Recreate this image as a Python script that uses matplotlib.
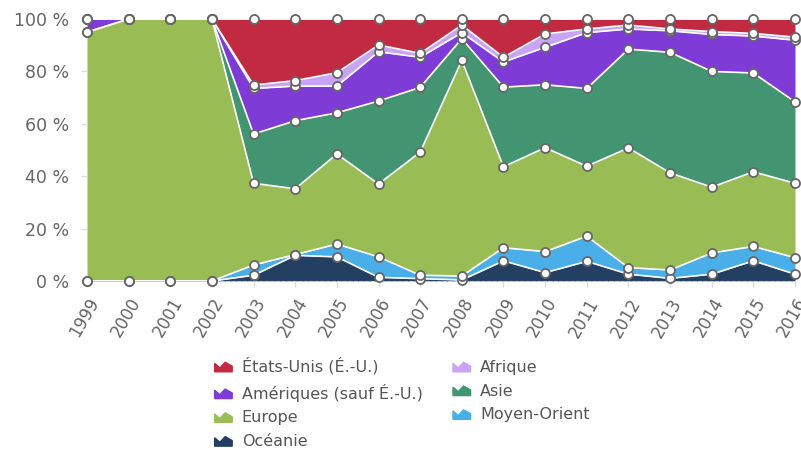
import numpy as np
import matplotlib.pyplot as plt
from matplotlib.patches import Polygon, Patch
from matplotlib.legend_handler import HandlerPatch

annees = list(range(1999, 2017))

# parts en % (de bas en haut de la pile)
oceanie = [0, 0, 0, 0, 2.2, 9.8, 9.2, 1.4, 0.9, 0.4, 7.7, 3.2, 7.5, 2.6, 1.0, 2.6, 7.7, 2.6]
moyen_orient = [0, 0, 0, 0, 3.9, 0.3, 4.9, 7.8, 1.3, 1.5, 5.0, 8.0, 9.6, 2.5, 3.2, 8.1, 5.5, 6.3]
europe = [95, 100, 100, 100, 31.2, 25.1, 34.4, 27.8, 47.0, 82.3, 30.9, 39.7, 26.7, 45.7, 37.1, 25.1, 28.5, 28.4]
asie = [0, 0, 0, 0, 18.8, 26.0, 15.7, 31.7, 24.7, 8.3, 30.4, 24.0, 29.7, 37.7, 46.0, 44.2, 37.7, 31.1]
ameriques = [5, 0, 0, 0, 17.4, 13.2, 10.2, 18.8, 11.5, 2.3, 9.6, 14.3, 21.3, 7.7, 8.2, 14.1, 14.1, 23.5]
afrique = [0, 0, 0, 0, 1.3, 2.1, 5.1, 2.6, 1.5, 2.9, 1.8, 5.1, 1.4, 1.5, 0.7, 1.1, 1.0, 1.2]
etats_unis = [0, 0, 0, 0, 25.2, 23.5, 20.5, 9.9, 13.1, 2.3, 14.6, 5.7, 3.8, 2.3, 3.8, 4.8, 5.5, 6.9]

series = [
    ("Océanie", oceanie, "#233f61"),
    ("Moyen-Orient", moyen_orient, "#4aaee8"),
    ("Europe", europe, "#99bc55"),
    ("Asie", asie, "#429570"),
    ("Amériques (sauf É.-U.)", ameriques, "#7f3bd5"),
    ("Afrique", afrique, "#c8a3f6"),
    ("États-Unis (É.-U.)", etats_unis, "#c12a41"),
]

x = np.arange(len(annees))
valeurs = np.array([s[1] for s in series], dtype=float)
valeurs = valeurs / valeurs.sum(axis=0) * 100
cumul = np.cumsum(valeurs, axis=0)

fig = plt.figure(figsize=(8.01, 4.53), dpi=100)
ax = fig.add_axes([0.1086, 0.3797, 0.8839, 0.5783])

bas = np.zeros(len(x))
handles = {}
for (nom, _, couleur), haut in zip(series, cumul):
    ax.fill_between(x, bas, haut, color=couleur, linewidth=0)
    handles[nom] = Patch(color=couleur)
    bas = haut
for haut in cumul:
    ax.plot(x, haut, color="white", linewidth=1.2)
# points
for haut in cumul:
    ax.plot(x, haut, "o", ms=6.5, mfc="white", mec="#666666", mew=1.3, clip_on=False, zorder=5)

ax.set_xlim(0, len(x) - 1)
ax.set_ylim(0, 100)
ax.set_yticks([0, 20, 40, 60, 80, 100])
ax.set_yticklabels(["0 %", "20 %", "40 %", "60 %", "80 %", "100 %"])
ax.set_xticks(x)
ax.set_xticklabels([str(a) for a in annees], rotation=60, ha="right", rotation_mode="anchor")
ax.tick_params(colors="#dddddd", labelcolor="#666666", labelsize=12.5, length=4, width=1, pad=6)
ax.tick_params(axis="x", labelsize=12)
ax.tick_params(axis="y", pad=9)
for cote in ["top", "right", "left"]:
    ax.spines[cote].set_visible(False)
ax.spines["bottom"].set_color("#cccccc")
ax.spines["bottom"].set_linestyle((0, (3, 2)))


def montagne(legend, orig_handle, xdescent, ydescent, width, height, fontsize):
    pts = [(0, 0), (0, height * 0.75), (width * 0.3, height * 0.35),
           (width * 0.6, height * 0.85), (width, height * 0.5), (width, 0)]
    return Polygon(np.array(pts) - [xdescent, ydescent], closed=True)


ordre = ["États-Unis (É.-U.)", "Amériques (sauf É.-U.)", "Europe", "Océanie",
         "Afrique", "Asie", "Moyen-Orient"]
leg = fig.legend([handles[n] for n in ordre], ordre, ncol=2, loc="upper left",
                 bbox_to_anchor=(0.25, 0.243), frameon=False, fontsize=11.5,
                 handlelength=1.1, handleheight=0.7, handletextpad=0.6,
                 columnspacing=1.9, labelspacing=0.55, labelcolor="#555555",
                 handler_map={Patch: HandlerPatch(patch_func=montagne)})

fig.savefig("out.png", dpi=100)
